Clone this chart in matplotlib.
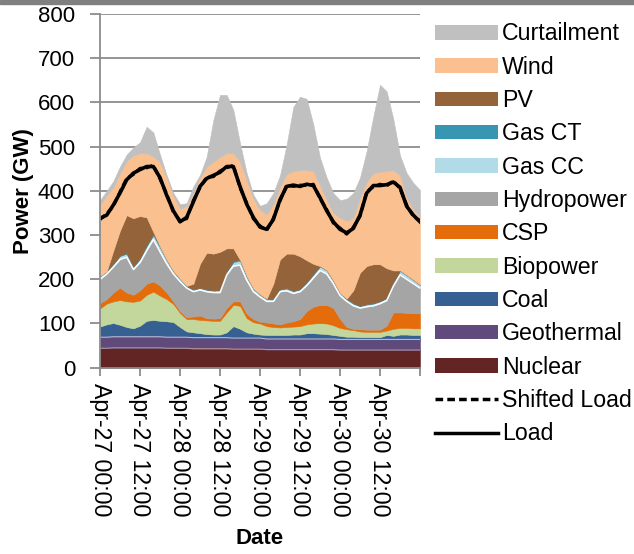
import matplotlib
matplotlib.use('Agg')
import matplotlib.pyplot as plt
import numpy as np
from matplotlib.patches import Patch, Rectangle
from matplotlib.lines import Line2D

plt.rcParams['font.family'] = ['Liberation Sans', 'DejaVu Sans']

# hours since Apr-27 00:00, every 2 hours
hours = list(range(0, 97, 2))

nuclear = [44,44,45,45,45,45,45,45,45,45,44,44,44,
           44,43,43,43,43,43,43,42,42,42,42,42,
           41,41,41,41,41,41,41,41,41,41,41,40,
           40,40,40,40,40,40,40,40,40,40,40,40]
geothermal = [25,25,25,25,25,25,25,25,25,25,25,25,25,
              25,25,25,25,25,25,25,25,25,25,25,25,
              24,24,24,24,24,24,24,24,24,24,24,24,
              24,24,24,24,24,24,24,24,24,24,24,24]
coal = [24,29,31,27,22,19,25,36,38,36,36,34,23,
        13,12,10,8,7,7,12,27,21,13,10,8,
        9,9,9,9,10,10,13,13,12,11,9,8,
        6,6,5,5,5,5,10,8,11,11,10,10]
biopower = [41,47,49,56,58,60,57,59,64,57,50,41,32,
            28,30,30,31,31,31,45,48,52,32,26,25,
            20,18,17,18,18,19,20,22,24,24,22,18,
            17,15,13,12,12,12,10,16,15,15,15,15]
csp = [12,10,20,28,20,16,23,25,23,23,15,6,4,
       4,6,10,5,5,6,10,8,10,10,7,4,
       8,8,7,10,12,16,30,38,41,42,39,20,
       5,3,5,5,5,5,11,37,35,34,34,34]
hydropower = [54,57,58,64,80,57,63,75,95,76,65,62,67,
              66,56,58,60,59,58,75,80,82,76,62,56,
              48,50,74,72,63,62,58,65,78,70,55,53,
              58,52,48,52,54,59,57,60,85,76,67,57]
gas_cc = [6,5,6,8,8,6,8,10,10,10,8,6,5,
          4,4,4,4,4,5,7,9,10,8,6,5,
          5,4,5,5,5,5,6,8,9,8,6,5,
          5,5,4,5,5,5,5,7,9,9,8,7]
gas_ct = [1,1,1,1,1,1,1,2,2,2,1,1,1,
          1,1,1,1,1,1,1,2,2,1,1,1,
          1,1,1,1,1,1,1,1,1,1,1,1,
          1,1,1,1,1,1,1,1,1,1,1,1]
pv = [0,0,30,56,86,109,96,63,5,0,0,0,0,
      0,13,54,83,83,86,52,29,0,0,0,0,
      0,35,67,78,84,74,50,23,0,0,0,0,
      0,29,75,86,88,83,67,27,0,0,0,0]
wind = [161,172,143,130,123,142,142,145,171,191,186,171,159,
        180,205,195,195,208,215,215,215,222,218,204,191,
        191,180,165,180,187,195,204,210,182,159,153,171,
        176,165,170,190,206,209,220,227,215,175,158,154]
curtailment = [11,10,14,15,14,18,25,60,54,17,5,5,10,
               7,15,6,22,94,140,132,98,42,15,8,9,
               25,25,25,67,145,166,161,105,63,50,45,39,
               50,55,45,70,128,197,180,115,45,55,61,60]
load = [338,345,368,395,425,440,448,455,455,430,390,355,330,
        340,375,410,428,435,442,455,455,410,370,340,318,
        313,335,380,410,413,410,415,412,385,355,330,313,
        305,315,345,395,412,412,414,420,408,365,345,330]
shifted_load = [335,348,365,398,428,437,451,452,458,427,393,352,333,
                337,378,407,431,432,445,452,458,407,373,337,321,
                310,338,377,413,410,413,412,415,382,358,327,316,
                302,318,342,398,409,415,411,423,405,368,342,333]

tick_labels = ['Apr-27 00:00', 'Apr-27 12:00', 'Apr-28 00:00', 'Apr-28 12:00',
               'Apr-29 00:00', 'Apr-29 12:00', 'Apr-30 00:00', 'Apr-30 12:00', '']
tick_hours = [0, 12, 24, 36, 48, 60, 72, 84, 96]

names = ['Nuclear', 'Geothermal', 'Coal', 'Biopower', 'CSP', 'Hydropower',
         'Gas CC', 'Gas CT', 'PV', 'Wind', 'Curtailment']
series = [nuclear, geothermal, coal, biopower, csp, hydropower,
          gas_cc, gas_ct, pv, wind, curtailment]
colors = ['#632523', '#604a7b', '#366092', '#c3d69b', '#e46c0a', '#a5a5a5',
          '#b2dbe8', '#3797b3', '#95633a', '#fac090', '#c0c0c0']

fig = plt.figure(figsize=(6.34, 5.54), dpi=100)
ax = fig.add_axes([100/634, 1-367.7/554, 320/634, (367.7-14)/554])

polys = ax.stackplot(hours, *series, colors=colors, linewidth=0)
for p, c in zip(polys, colors):
    p.set_edgecolor(c)
    p.set_linewidth(0.4)

cum = np.cumsum(np.array(series), axis=0)
ax.plot(hours, cum[0], color='#b89a9a', lw=0.7)
ax.plot(hours, cum[1], color='#c8c0d8', lw=0.7)
ax.plot(hours, cum[5], color='white', lw=1.0)

ax.plot(hours, load, color='black', lw=2.6, solid_joinstyle='round')
ax.plot(hours, shifted_load, color='black', lw=2.2, ls=(0, (2.2, 1.2)))

ax.set_xlim(0, 96)
ax.set_ylim(0, 800)
ax.set_yticks(range(0, 801, 100))
ax.set_xticks(tick_hours)
ax.set_xticklabels(tick_labels, rotation=-90, fontsize=16.7)
ax.tick_params(axis='y', labelsize=16, length=7, width=1.3, color='#8c8c8c', pad=11)
ax.tick_params(axis='x', length=6, width=1.3, color='#8c8c8c', pad=5)
ax.yaxis.grid(True, color='#8c8c8c', lw=1.3)
ax.set_axisbelow(True)
for s in ['top', 'right']:
    ax.spines[s].set_visible(False)
for s in ['left', 'bottom']:
    ax.spines[s].set_color('#8c8c8c')
    ax.spines[s].set_linewidth(1.3)
ax.set_ylabel('Power (GW)', fontsize=16, fontweight='bold', labelpad=3)
ax.set_xlabel('Date', fontsize=16, fontweight='bold', labelpad=8.5)

handles = [Patch(facecolor=c, edgecolor='none') for c in colors[::-1]]
labels = names[::-1]
handles += [Line2D([], [], color='black', lw=2.5, ls=(0, (2.2, 1.2))),
            Line2D([], [], color='black', lw=2.5)]
labels += ['Shifted Load', 'Load']
fig.legend(handles, labels, loc='upper left', bbox_to_anchor=(435/634, 1-22.5/554),
           frameon=False, fontsize=16.7, handlelength=2.72, handleheight=0.58,
           labelspacing=0.445, handletextpad=0.17, borderpad=0, borderaxespad=0)

fig.patches.append(Rectangle((0, 1-4/554), 1, 4/554, transform=fig.transFigure,
                             color='#808080', zorder=10))

fig.savefig('out.png', dpi=100)
